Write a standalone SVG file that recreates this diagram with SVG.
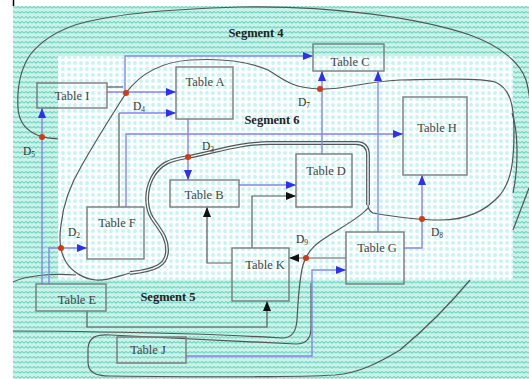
<svg xmlns="http://www.w3.org/2000/svg" width="529" height="379" viewBox="0 0 529 379">
<defs>
<pattern id="zig" width="8" height="5" patternUnits="userSpaceOnUse">
<rect width="8" height="5" fill="#cdf2e9"/>
<path d="M0,3.2 L2,1.4 L4,3.2 L6,1.4 L8,3.2" stroke="#6ad8c2" stroke-width="1.1" fill="none"/>
</pattern>
<pattern id="dots" width="6" height="6" patternUnits="userSpaceOnUse">
<rect width="6" height="6" fill="#ffffff"/>
<circle cx="3" cy="3" r="1.9" fill="#c6f4f5"/>
</pattern>
<marker id="ab" markerWidth="10" markerHeight="8" refX="10" refY="4" orient="auto" markerUnits="userSpaceOnUse">
<path d="M0,0 L10,4 L0,8 z" fill="#2f2ff0"/>
</marker>
<marker id="ak" markerWidth="10" markerHeight="8" refX="10" refY="4" orient="auto" markerUnits="userSpaceOnUse">
<path d="M0,0 L10,4 L0,8 z" fill="#111"/>
</marker>
</defs>
<style>
.bnd{fill:none;stroke:#555;stroke-width:1.2}
.blue{fill:none;stroke:#8484f2;stroke-width:1.4}
.gray{fill:none;stroke:#5a5a5a;stroke-width:1.2}
.box{fill:none;stroke:#7a7a7a;stroke-width:1.4}
.t{font-family:"Liberation Serif",serif;font-size:12.5px;fill:#444}
.seg{font-family:"Liberation Serif",serif;font-size:12.5px;font-weight:bold;fill:#222}
.d{font-family:"Liberation Serif",serif;font-size:11.5px;fill:#333}
.sub{font-size:7.5px}
.dot{fill:#d23a12}
</style>
<rect x="0" y="0" width="529" height="379" fill="#fff"/>
<rect x="13" y="6" width="516" height="373" fill="url(#zig)"/>
<rect x="58" y="56" width="455" height="224" fill="url(#dots)"/>
<line x1="13.5" y1="0" x2="13.5" y2="6" stroke="#000" stroke-width="1.5"/>

<g id="boundaries">
<path class="bnd" d="M58,139 C50,138 44,138 40,136 C28,132 19,124 18,108 C17,90 20,70 30,55 C40,42 55,32 75,25 C110,14 170,9 240,7 C330,5 420,18 470,35 C500,46 520,62 526,80 C529,90 530,100 531,110"/>
<path class="bnd" d="M130,273 C118,276 108,281 96,280 C84,279 72,272 66,262 C60,252 59,238 61,225 C63,205 70,185 82,165 C95,142 110,118 126,93 C140,74 160,62 190,60 C225,58 250,62 268,70 C282,78 290,88 320,89 C345,90 360,82 400,80 C440,79 480,78 495,82 C510,88 514,105 514,130 C514,160 512,180 500,195 C485,212 465,220 440,220 C415,220 390,216 373,213 C369,211 368,208 368,205"/>
<path d="M368,205 L368,155 C368,147 364,143 356,143 L270,143 C240,143 215,152 188,157 C170,160 160,163 152,178 C145,192 146,208 152,218 C160,230 168,238 167,252 C166,264 158,270 130,273" fill="none" stroke="#555" stroke-width="3.8"/>
<path d="M368,205 L368,155 C368,147 364,143 356,143 L270,143 C240,143 215,152 188,157 C170,160 160,163 152,178 C145,192 146,208 152,218 C160,230 168,238 167,252 C166,264 158,270 130,273" fill="none" stroke="#eafcfc" stroke-width="1.4"/>
<path class="bnd" d="M368,208 C360,218 340,228 325,238 C312,246 306,254 303,265 C299,280 298,300 297,320 C296,332 292,338 282,338 C250,336 180,333 100,332 C60,331 30,331 13,331"/>
<path class="bnd" d="M311,283 L311,328 C311,338 306,344 296,344 C250,342 180,338 110,335 C95,334 89,338 88,348 L88,362 C88,372 95,376 110,376 C200,377 300,377 335,375 C360,373 380,362 400,350 C430,325 455,298 470,280"/>
<path class="bnd" d="M513,230 L529,188"/>
<path class="bnd" d="M512,113 C518,130 519,165 513,193"/>
<path class="bnd" d="M13,282 C25,276 50,273 76,275"/>
</g>

<g id="connectors">
<path class="blue" d="M107,92 L176,92" marker-end="url(#ab)"/>
<path class="blue" d="M125,92 L125,56 L313,56" marker-end="url(#ab)"/>
<path class="gray" d="M107,87 L123,87"/>
<path class="gray" d="M119,207 L119,113"/>
<path class="blue" d="M119,113 L176,113" marker-end="url(#ab)"/>
<path class="blue" d="M126,207 L126,134 L403,134" marker-end="url(#ab)"/>
<path class="blue" d="M188,119 L188,180" marker-end="url(#ab)"/>
<path class="blue" d="M239,185 L296,185" marker-end="url(#ab)"/>
<path class="blue" d="M322,154 L322,71" marker-end="url(#ab)"/>
<path class="blue" d="M378,232 L378,71" marker-end="url(#ab)"/>
<path class="blue" d="M404,248 L422,248 L422,175" marker-end="url(#ab)"/>
<path class="blue" d="M186,356 L312,356 L312,270 L346,270" marker-end="url(#ab)"/>
<path class="blue" d="M42,284 L42,108" marker-end="url(#ab)"/>
<path class="blue" d="M49,284 L49,248 L87,248" marker-end="url(#ab)"/>
<path class="gray" d="M252,248 L252,196 L296,196" marker-end="url(#ak)"/>
<path class="gray" d="M232,263 L207,263 L207,207" marker-end="url(#ak)"/>
<path class="gray" d="M346,258 L289,258" marker-end="url(#ak)"/>
<path class="gray" d="M87,311 L87,327 L267,327 L267,301" marker-end="url(#ak)"/>
<circle class="dot" cx="42" cy="137" r="3"/>
<circle class="dot" cx="126" cy="93" r="3"/>
<circle class="dot" cx="188" cy="157" r="3"/>
<circle class="dot" cx="320" cy="89" r="3"/>
<circle class="dot" cx="61" cy="248" r="3"/>
<circle class="dot" cx="306" cy="258" r="3"/>
<circle class="dot" cx="422" cy="219" r="3"/>
<text class="d" x="23" y="155">D<tspan class="sub" dy="2">5</tspan></text>
<text class="d" x="133" y="110">D<tspan class="sub" dy="2">4</tspan></text>
<text class="d" x="202" y="150">D<tspan class="sub" dy="2">3</tspan></text>
<text class="d" x="298" y="106">D<tspan class="sub" dy="2">7</tspan></text>
<text class="d" x="68" y="236">D<tspan class="sub" dy="2">2</tspan></text>
<text class="d" x="296" y="243">D<tspan class="sub" dy="2">9</tspan></text>
<text class="d" x="431" y="236">D<tspan class="sub" dy="2">8</tspan></text>
</g>

<g id="labels">
<text class="seg" x="256" y="37" text-anchor="middle">Segment 4</text>
<text class="seg" x="272" y="124" text-anchor="middle">Segment 6</text>
<text class="seg" x="168" y="301" text-anchor="middle">Segment 5</text>
</g>

<g id="tableI"><rect class="box" x="37" y="83" width="70" height="25"/><text class="t" x="72" y="100" text-anchor="middle">Table I</text></g>
<g id="tableA"><rect class="box" x="176" y="67" width="57" height="52"/><text class="t" x="205" y="86" text-anchor="middle">Table A</text></g>
<g id="tableC"><rect class="box" x="313" y="44" width="71" height="27"/><text class="t" x="350" y="66" text-anchor="middle">Table C</text></g>
<g id="tableH"><rect class="box" x="403" y="97" width="64" height="78"/><text class="t" x="437" y="132" text-anchor="middle">Table H</text></g>
<g id="tableD"><rect class="box" x="296" y="154" width="56" height="53"/><text class="t" x="326" y="175" text-anchor="middle">Table D</text></g>
<g id="tableB"><rect class="box" x="170" y="180" width="69" height="27"/><text class="t" x="204" y="199" text-anchor="middle">Table B</text></g>
<g id="tableF"><rect class="box" x="87" y="207" width="57" height="52"/><text class="t" x="117" y="227" text-anchor="middle">Table F</text></g>
<g id="tableK"><rect class="box" x="232" y="248" width="57" height="53"/><text class="t" x="265" y="269" text-anchor="middle">Table K</text></g>
<g id="tableG"><rect class="box" x="346" y="232" width="58" height="52"/><text class="t" x="377" y="252" text-anchor="middle">Table G</text></g>
<g id="tableE"><rect class="box" x="36" y="284" width="70" height="27"/><text class="t" x="77" y="304" text-anchor="middle">Table E</text></g>
<g id="tableJ"><rect class="box" x="117" y="337" width="69" height="26"/><text class="t" x="148" y="354" text-anchor="middle">Table J</text></g>
</svg>
